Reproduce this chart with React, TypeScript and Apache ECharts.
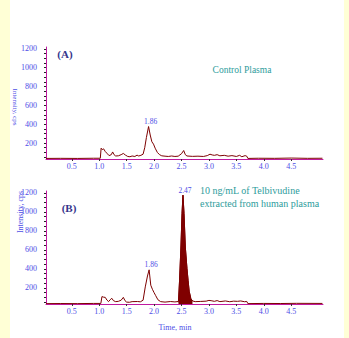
import React, { useEffect, useRef } from "react";
import * as echarts from "echarts";

// Panel A: Control Plasma (time min, intensity cps)
const timesA = [0.03, 0.3, 0.6, 0.9, 1.02, 1.035, 1.055, 1.08, 1.11, 1.15, 1.18, 1.22, 1.245, 1.27, 1.3, 1.35, 1.4, 1.44, 1.48, 1.52, 1.56, 1.6, 1.65, 1.69, 1.72, 1.76, 1.8, 1.83, 1.86, 1.9, 1.93, 1.96, 1.99, 2.02, 2.06, 2.1, 2.14, 2.2, 2.26, 2.32, 2.38, 2.44, 2.5, 2.54, 2.57, 2.6, 2.7, 2.8, 2.9, 2.97, 3.02, 3.06, 3.1, 3.15, 3.2, 3.28, 3.35, 3.42, 3.5, 3.56, 3.6, 3.66, 3.69, 3.71, 3.9, 4.2, 4.5, 4.8, 5.07];
const intensA = [36, 37, 36, 38, 38, 145, 130, 138, 110, 85, 66, 76, 105, 76, 62, 64, 76, 89, 71, 57, 54, 62, 57, 71, 62, 69, 81, 150, 257, 375, 285, 213, 188, 145, 100, 76, 64, 60, 57, 62, 57, 60, 86, 120, 76, 62, 58, 60, 57, 66, 81, 73, 69, 76, 64, 69, 60, 66, 57, 69, 54, 66, 60, 36, 38, 37, 40, 37, 38];

// Panel B: 10 ng/mL Telbivudine
const timesB = [0.03, 0.3, 0.6, 0.9, 1.03, 1.05, 1.08, 1.11, 1.14, 1.17, 1.2, 1.23, 1.26, 1.3, 1.35, 1.4, 1.44, 1.47, 1.5, 1.55, 1.6, 1.7, 1.75, 1.8, 1.84, 1.88, 1.91, 1.94, 1.97, 2.0, 2.03, 2.07, 2.12, 2.2, 2.3, 2.38, 2.44, 2.447, 2.465, 2.49, 2.51, 2.527, 2.546, 2.57, 2.6, 2.62, 2.64, 2.67, 2.7, 2.75, 2.85, 2.95, 3.0, 3.04, 3.1, 3.15, 3.2, 3.3, 3.38, 3.45, 3.52, 3.58, 3.65, 3.69, 3.71, 4.0, 4.3, 4.6, 5.07];
const intensB = [34, 35, 34, 36, 36, 108, 102, 100, 72, 55, 75, 90, 65, 55, 58, 70, 100, 65, 50, 48, 55, 56, 53, 70, 210, 325, 390, 228, 185, 150, 118, 75, 55, 50, 56, 52, 56, 70, 280, 630, 985, 1176, 985, 630, 405, 280, 165, 88, 62, 55, 57, 60, 68, 65, 58, 66, 55, 62, 54, 60, 58, 62, 54, 57, 34, 36, 35, 37, 36];

// integrated peak (filled) in panel B
const peakStart = 2.44;
const peakEnd = 2.7;

const xTicks = [0.5, 1.0, 1.5, 2.0, 2.5, 3.0, 3.5, 4.0, 4.5];
const yLabels = [200, 400, 600, 800, 1000, 1200];
const yMinorTicks = [50, 100, 150, 200, 250, 300, 350, 400, 450, 500, 550, 600, 650, 700, 750, 800, 850, 900, 950, 1000, 1050, 1100, 1150, 1200];

const peakLabelsA = [{ t: 1.9, v: 375, text: "1.86" }];
const peakLabelsB = [
  { t: 1.91, v: 390, text: "1.86" },
  { t: 2.527, v: 1176, text: "2.47" },
];

const FONT = "Liberation Serif";
const BLUE = "#4d4de6";
const AXIS = "#c01aa0";
const TRACE = "#7d0000";

export default function App() {
  const ref = useRef<HTMLDivElement>(null);
  useEffect(() => {
    if (!ref.current) return;
    const chart = echarts.init(ref.current, null, { renderer: "svg" });
    const pairs = (ts: number[], vs: number[]) => ts.map((t, i) => [t, vs[i]]);
    const dataA = pairs(timesA, intensA);
    const dataB = pairs(timesB, intensB);
    const peakB = dataB.filter((d) => d[0] >= peakStart && d[0] <= peakEnd);

    const xAxis = (gi: number) => ({
      type: "value",
      gridIndex: gi,
      min: 0.03,
      max: 5.08,
      axisLine: { show: true, lineStyle: { color: AXIS, width: 1 } },
      axisTick: { show: true, length: 2, customValues: xTicks, lineStyle: { color: "#333" } },
      axisLabel: {
        customValues: xTicks,
        formatter: (v: number) => v.toFixed(1),
        color: BLUE,
        fontFamily: FONT,
        fontSize: 8,
        margin: 3,
      },
      splitLine: { show: false },
    });
    const yAxis = (gi: number) => ({
      type: "value",
      gridIndex: gi,
      min: 30,
      max: 1220,
      axisLine: { show: true, lineStyle: { color: AXIS, width: 1 } },
      axisTick: { show: true, length: 2, customValues: yMinorTicks, lineStyle: { color: "#222" } },
      axisLabel: {
        customValues: yLabels,
        formatter: (v: number) => String(Math.round(v)),
        color: BLUE,
        fontFamily: FONT,
        fontSize: 8,
        margin: 9,
      },
      splitLine: { show: false },
    });
    const mp = (labels: { t: number; v: number; text: string }[]) => ({
      symbol: "circle",
      symbolSize: 0.1,
      itemStyle: { color: "transparent" },
      label: {
        show: true,
        position: "top",
        distance: 1,
        offset: [2, 0],
        color: BLUE,
        fontFamily: FONT,
        fontSize: 7.5,
        formatter: (p: any) => p.name,
      },
      data: labels.map((l) => ({ name: l.text, coord: [l.t, l.v] })),
    });

    const txt = (x: number, y: number, text: string, style: any, rotation = 0) => ({
      type: "text",
      x,
      y,
      rotation,
      style: { text, fontFamily: FONT, align: "center", verticalAlign: "middle", ...style },
    });

    chart.setOption({
      animation: false,
      backgroundColor: "#ffffd6",
      grid: [
        { left: 46, top: 47, width: 277, height: 112 },
        { left: 46, top: 191, width: 277, height: 113 },
      ],
      xAxis: [xAxis(0), xAxis(1)],
      yAxis: [yAxis(0), yAxis(1)],
      graphic: [
        { type: "rect", z: -10, shape: { x: 10, y: 0, width: 334, height: 338 }, style: { fill: "#ffffff" } },
        txt(65, 54, "(A)", { fill: "#35358c", fontSize: 11, fontWeight: "bold" }),
        txt(69, 208, "(B)", { fill: "#35358c", fontSize: 11, fontWeight: "bold" }),
        txt(242, 70, "Control Plasma", { fill: "#2e9c9c", fontSize: 9.5 }),
        { type: "text", x: 200, y: 190, style: { text: "10 ng/mL of Telbivudine", fontFamily: FONT, fontSize: 10, fill: "#2e9c9c", align: "left", verticalAlign: "middle" } },
        { type: "text", x: 200, y: 203, style: { text: "extracted from human plasma", fontFamily: FONT, fontSize: 10, fill: "#2e9c9c", align: "left", verticalAlign: "middle" } },
        txt(15, 107, "Intensity, cps", { fill: BLUE, fontSize: 7 }, -Math.PI / 2),
        txt(20, 212, "Intensity, cps", { fill: BLUE, fontSize: 8 }, Math.PI / 2),
        txt(175, 327, "Time, min", { fill: BLUE, fontSize: 8 }),
      ],
      series: [
        {
          type: "line",
          xAxisIndex: 0,
          yAxisIndex: 0,
          data: dataA,
          showSymbol: false,
          lineStyle: { color: TRACE, width: 1 },
          markPoint: mp(peakLabelsA),
        },
        {
          type: "line",
          xAxisIndex: 1,
          yAxisIndex: 1,
          data: peakB,
          showSymbol: false,
          lineStyle: { color: TRACE, width: 1 },
          areaStyle: { color: "#800000", opacity: 1, origin: "start" },
          z: 1,
        },
        {
          type: "line",
          xAxisIndex: 1,
          yAxisIndex: 1,
          data: dataB,
          showSymbol: false,
          lineStyle: { color: TRACE, width: 1 },
          markPoint: mp(peakLabelsB),
          z: 2,
        },
      ],
    });
    return () => chart.dispose();
  }, []);
  return <div ref={ref} style={{ position: "absolute", left: 0, top: 0, width: 349, height: 338 }} />;
}
